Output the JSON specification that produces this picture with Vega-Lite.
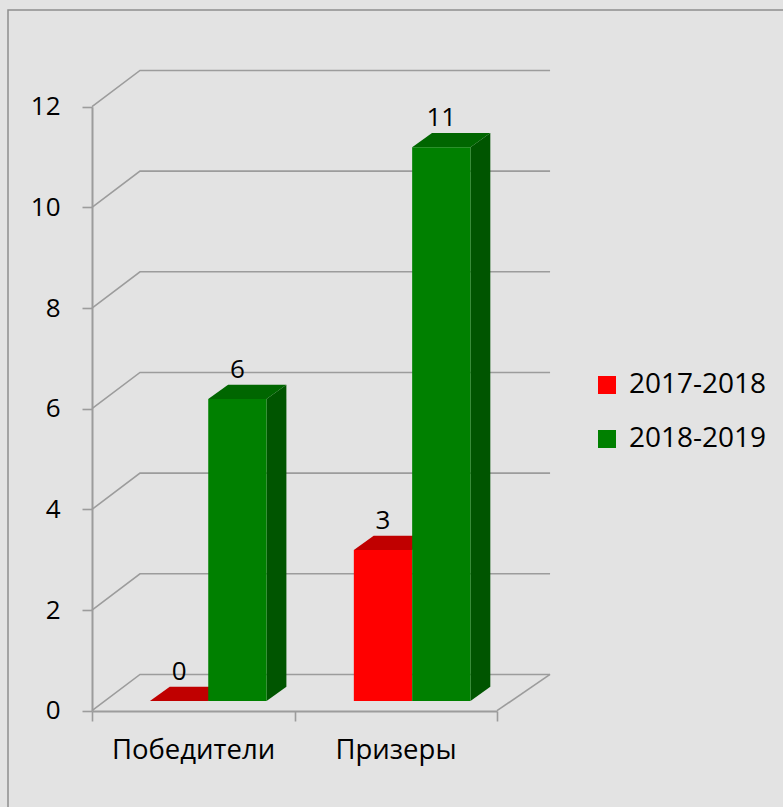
{
  "$schema": "https://vega.github.io/schema/vega-lite/v6.json",
  "width": 800,
  "height": 800,
  "padding": {"left": 8, "top": 10, "right": 0, "bottom": 0},
  "autosize": "none",
  "background": "#e3e3e3",
  "config": {
    "view": {"stroke": "#8f8f8f", "strokeWidth": 1.5},
    "font": "Open Sans"
  },
  "datasets": {
    "bars": [
      {"category": "Победители", "series": "2017-2018", "value": 0},
      {"category": "Победители", "series": "2018-2019", "value": 6},
      {"category": "Призеры", "series": "2017-2018", "value": 3},
      {"category": "Призеры", "series": "2018-2019", "value": 11}
    ],
    "ticks": [{"tick": 0}, {"tick": 2}, {"tick": 4}, {"tick": 6}, {"tick": 8}, {"tick": 10}, {"tick": 12}]
  },
  "layer": [
    {
      "data": {"name": "ticks"},
      "transform": [
        {"calculate": "0", "as": "a"},
        {"calculate": "0.237", "as": "b"},
        {"calculate": "2.262", "as": "c"},
        {"fold": ["a", "b", "c"], "as": ["corner", "px"]},
        {"calculate": "datum.tick + (datum.corner == 'a' ? 0 : 0.72)", "as": "py"}
      ],
      "mark": {"type": "line", "color": "#9c9c9c", "strokeWidth": 1.6, "clip": false},
      "encoding": {
        "x": {"field": "px", "type": "quantitative", "scale": {"domain": [0, 2], "range": [84, 489]},
          "axis": {"title": null, "values": [0, 1, 2], "offset": -99, "orient": "bottom", "grid": false,
            "domainColor": "#9c9c9c", "domainWidth": 2, "tickColor": "#9c9c9c", "tickWidth": 1.6, "tickSize": 10,
            "labelExpr": "datum.value == 0 ? 'Победители' : datum.value == 1 ? 'Призеры' : ''",
            "labelOffset": 101, "labelFont": "Open Sans", "labelFontSize": 27.5, "labelColor": "#000000", "labelPadding": 15, "labelOverlap": false, "labelBound": false, "labelFlush": false}},
        "y": {"field": "py", "type": "quantitative", "scale": {"domain": [0, 12], "range": [700.7, 96.7]},
          "axis": {"title": null, "values": [0, 2, 4, 6, 8, 10, 12], "format": "d", "offset": -84, "orient": "left", "grid": false,
            "domainColor": "#9c9c9c", "domainWidth": 2, "tickColor": "#9c9c9c", "tickWidth": 1.6, "tickSize": 10,
            "labelFont": "Open Sans", "labelFontSize": 26, "labelColor": "#000000", "labelPadding": 22, "labelOverlap": false, "labelBound": false, "labelFlush": false}},
        "detail": {"field": "tick"}
      }
    },
    {
      "data": {"name": "ticks"},
      "transform": [
        {"filter": "datum.tick == 0"},
        {"calculate": "2", "as": "a"},
        {"calculate": "2.262", "as": "b"},
        {"fold": ["a", "b"], "as": ["corner", "px"]},
        {"calculate": "datum.corner == 'a' ? 0 : 0.72", "as": "py"}
      ],
      "mark": {"type": "line", "color": "#9c9c9c", "strokeWidth": 1.6},
      "encoding": {
        "x": {"field": "px", "type": "quantitative", "scale": {"domain": [0, 2], "range": [84, 489]}, "axis": {"title": null}},
        "y": {"field": "py", "type": "quantitative", "scale": {"domain": [0, 12], "range": [700.7, 96.7]}, "axis": {"title": null}}
      }
    },
    {
      "data": {"name": "bars"},
      "transform": [
        {"calculate": "(datum.category == 'Призеры' ? 1.007 : 0) + 0.286 + (datum.series == '2018-2019' ? 0.288 : 0)", "as": "xl"},
        {"calculate": "datum.xl + 0.288", "as": "a"},
        {"calculate": "datum.xl + 0.288 + 0.098", "as": "b"},
        {"fold": ["a", "b"], "as": ["corner", "px"]},
        {"calculate": "0.193 + (datum.corner == 'b' ? 0.285 : 0)", "as": "y0"},
        {"calculate": "datum.y0 + datum.value", "as": "y1"},
        {"filter": "datum.series == '2018-2019'"}
      ],
      "mark": {"type": "area", "color": "#005500"},
      "encoding": {
        "x": {"field": "px", "type": "quantitative", "scale": {"domain": [0, 2], "range": [84, 489]}, "axis": {"title": null}},
        "y": {"field": "y0", "type": "quantitative", "stack": null, "scale": {"domain": [0, 12], "range": [700.7, 96.7]}, "axis": {"title": null}},
        "y2": {"field": "y1"},
        "detail": {"field": "category"}
      }
    },
    {
      "data": {"name": "bars"},
      "transform": [
        {"calculate": "(datum.category == 'Призеры' ? 1.007 : 0) + 0.286 + (datum.series == '2018-2019' ? 0.288 : 0)", "as": "xl"},
        {"calculate": "0.193 + datum.value", "as": "a"},
        {"calculate": "0.193 + datum.value + 0.285", "as": "b"},
        {"fold": ["a", "b"], "as": ["corner", "py"]},
        {"calculate": "datum.xl + (datum.corner == 'b' ? 0.098 : 0)", "as": "x0"},
        {"calculate": "datum.x0 + 0.288", "as": "x1"}
      ],
      "mark": {"type": "area", "orient": "horizontal"},
      "encoding": {
        "y": {"field": "py", "type": "quantitative", "scale": {"domain": [0, 12], "range": [700.7, 96.7]}, "axis": {"title": null}},
        "x": {"field": "x0", "type": "quantitative", "stack": null, "scale": {"domain": [0, 2], "range": [84, 489]}, "axis": {"title": null}},
        "x2": {"field": "x1"},
        "detail": [{"field": "category"}, {"field": "series"}],
        "fill": {"condition": {"test": "datum.series == '2017-2018'", "value": "#c00000"}, "value": "#006600"}
      }
    },
    {
      "data": {"name": "bars"},
      "transform": [
        {"calculate": "(datum.category == 'Призеры' ? 1.007 : 0) + 0.286 + (datum.series == '2018-2019' ? 0.288 : 0)", "as": "xl"},
        {"calculate": "datum.xl + 0.288", "as": "xr"},
        {"calculate": "0.193", "as": "y0"},
        {"calculate": "0.193 + datum.value", "as": "y1"}
      ],
      "mark": {"type": "rect"},
      "encoding": {
        "x": {"field": "xl", "type": "quantitative", "scale": {"domain": [0, 2], "range": [84, 489]}, "axis": {"title": null}},
        "x2": {"field": "xr"},
        "y": {"field": "y0", "type": "quantitative", "scale": {"domain": [0, 12], "range": [700.7, 96.7]}, "axis": {"title": null}},
        "y2": {"field": "y1"},
        "color": {"field": "series", "type": "nominal",
          "scale": {"domain": ["2017-2018", "2018-2019"], "range": ["#ff0000", "#008000"]},
          "legend": {"title": null, "orient": "none", "legendX": 585, "legendY": 358, "symbolType": "square", "symbolSize": 324, "symbolStrokeWidth": 0, "symbolOpacity": 1, "labelFont": "Open Sans", "labelFontSize": 28, "labelColor": "#000000", "labelOffset": 8, "rowPadding": 20, "clipHeight": 34}}
      }
    },
    {
      "data": {"name": "bars"},
      "transform": [
        {"calculate": "(datum.category == 'Призеры' ? 1.007 : 0) + 0.286 + (datum.series == '2018-2019' ? 0.288 : 0) + 0.144", "as": "xc"},
        {"calculate": "0.193 + datum.value + 0.285", "as": "yt"}
      ],
      "mark": {"type": "text", "baseline": "alphabetic", "dy": -7, "fontSize": 26, "color": "#000000"},
      "encoding": {
        "x": {"field": "xc", "type": "quantitative", "scale": {"domain": [0, 2], "range": [84, 489]}, "axis": {"title": null}},
        "y": {"field": "yt", "type": "quantitative", "scale": {"domain": [0, 12], "range": [700.7, 96.7]}, "axis": {"title": null}},
        "text": {"field": "value", "type": "quantitative"}
      }
    }
  ]
}
